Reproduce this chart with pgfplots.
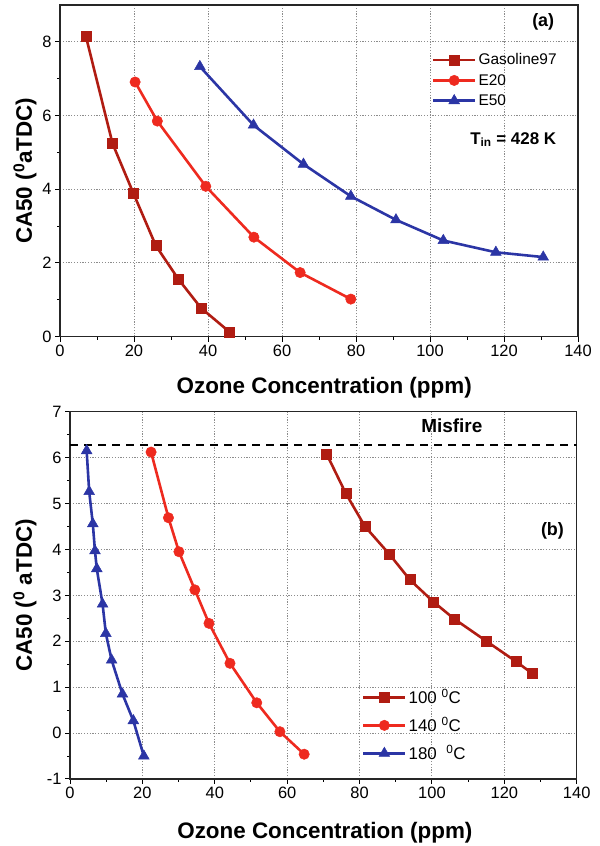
\documentclass[border=0pt]{standalone}
\usepackage{pgfplots}
\pgfplotsset{compat=1.18}
\usepackage{fontspec}
\setmainfont{Liberation Sans}
\definecolor{cdark}{RGB}{176,28,18}
\definecolor{cred}{RGB}{238,42,31}
\definecolor{cblue}{RGB}{43,53,165}
\pgfplotsset{
  common/.style={
    scale only axis,
    anchor=south west,
    xmin=0, xmax=140,
    xtick={0,20,...,140},
    minor x tick num=1,
    minor y tick num=1,
    tick align=outside,
    xtick pos=bottom, ytick pos=left,
    major tick length=5bp, minor tick length=3bp,
    every tick/.style={black, line width=1bp},
    axis line style={black!85, line width=1.2bp},
    xmajorgrids, ymajorgrids,
    major grid style={black!45, dash pattern=on 1.2bp off 1.6bp, line width=1bp},
    tick label style={font=\fontsize{16.5}{20}\selectfont},
    /pgf/number format/assume math mode=true,
    label style={font=\bfseries\fontsize{22.5}{26}\selectfont},
    legend style={draw=none, fill=none, font=\fontsize{15.5}{18}\selectfont, inner sep=0pt},
    legend cell align=left,
    legend image code/.code={\draw[mark repeat=2,mark phase=2,##1, line width=2.6bp] plot coordinates {(0bp,0bp)(21bp,0bp)(42bp,0bp)};},
  },
  s1/.style={cdark, line width=2.6bp, mark=square*, mark size=5bp, mark options={solid, line width=0.5bp}},
  s2/.style={cred, line width=2.6bp, mark=*, mark size=5.2bp, mark options={solid, line width=0.5bp}},
  s3/.style={cblue, line width=2.6bp, mark=triangle*, mark size=6.2bp, mark options={solid, line width=0.5bp}},
}
\begin{document}
\begin{tikzpicture}[x=1bp,y=1bp]
\useasboundingbox (0,0) rectangle (600,846);
% ---------- panel (a)
\begin{axis}[common,
  at={(60bp,509.3bp)}, width=518bp, height=331.7bp,
  ymin=0, ymax=9, ytick={0,2,...,8},
  xlabel={Ozone Concentration (ppm)},
  ylabel={CA50 (\textsuperscript{0}aTDC)},
  xlabel style={at={(axis description cs:0.51,-0.153)}, anchor=center},
  ylabel style={at={(axis description cs:-0.0676,0.5)}, anchor=center},
  legend style={at={(axis description cs:0.7176,0.86)}, anchor=north west, row sep=4bp},
]
\addplot[s1] coordinates {(7.0,8.15)(14.2,5.24)(19.8,3.90)(25.9,2.47)(32.0,1.56)(38.1,0.78)(45.8,0.13)};
\addlegendentry{Gasoline97}
\addplot[s2] coordinates {(20.3,6.91)(26.3,5.85)(39.4,4.08)(52.4,2.70)(64.9,1.74)(78.6,1.02)};
\addlegendentry{E20}
\addplot[s3] coordinates {(37.8,7.33)(52.3,5.74)(65.8,4.68)(78.6,3.81)(90.8,3.17)(103.6,2.61)(117.8,2.29)(130.6,2.16)};
\addlegendentry{E50}
\node[font=\bfseries\fontsize{18}{20}\selectfont] at (axis cs:130.6,8.53) {(a)};
\node[font=\bfseries\fontsize{17}{20}\selectfont] at (axis cs:122.5,5.35) {T\textsubscript{in} = 428 K};
\end{axis}
% ---------- panel (b)
\begin{axis}[common,
  at={(70bp,67bp)}, width=506.7bp, height=367.3bp,
  ymin=-1, ymax=7, ytick={-1,0,...,7},
  xlabel={Ozone Concentration (ppm)},
  ylabel={CA50 (\textsuperscript{0} aTDC)},
  xlabel style={at={(axis description cs:0.503,-0.147)}, anchor=center},
  ylabel style={at={(axis description cs:-0.0888,0.5)}, anchor=center},
  legend style={at={(axis description cs:0.576,0.25)}, anchor=north west, row sep=8bp, font=\fontsize{17}{20}\selectfont},
]
\addplot[s1] coordinates {(70.9,6.08)(76.2,5.22)(81.5,4.50)(88.2,3.90)(93.9,3.34)(100.4,2.86)(106.1,2.49)(114.9,2.01)(123.2,1.56)(127.7,1.30)};
\addlegendentry{100 \textsuperscript{0}C}
\addplot[s2] coordinates {(22.4,6.12)(27.2,4.69)(30.1,3.95)(34.5,3.12)(38.4,2.39)(44.2,1.52)(51.6,0.66)(58.0,0.03)(64.7,-0.46)};
\addlegendentry{140 \textsuperscript{0}C}
\addplot[s3] coordinates {(4.6,6.15)(5.3,5.26)(6.3,4.56)(6.9,3.97)(7.4,3.58)(9.0,2.81)(9.9,2.17)(11.5,1.59)(14.5,0.85)(17.5,0.27)(20.4,-0.50)};
\addlegendentry{180 \ \textsuperscript{0}C}
\addplot[black, dash pattern=on 8bp off 6bp, line width=1.8bp, forget plot] coordinates {(0,6.27)(140,6.27)};
\node[font=\bfseries\fontsize{19}{20}\selectfont] at (axis cs:105.5,6.69) {Misfire};
\node[font=\bfseries\fontsize{18}{20}\selectfont] at (axis cs:133.3,4.40) {(b)};
\end{axis}
\end{tikzpicture}
\end{document}
